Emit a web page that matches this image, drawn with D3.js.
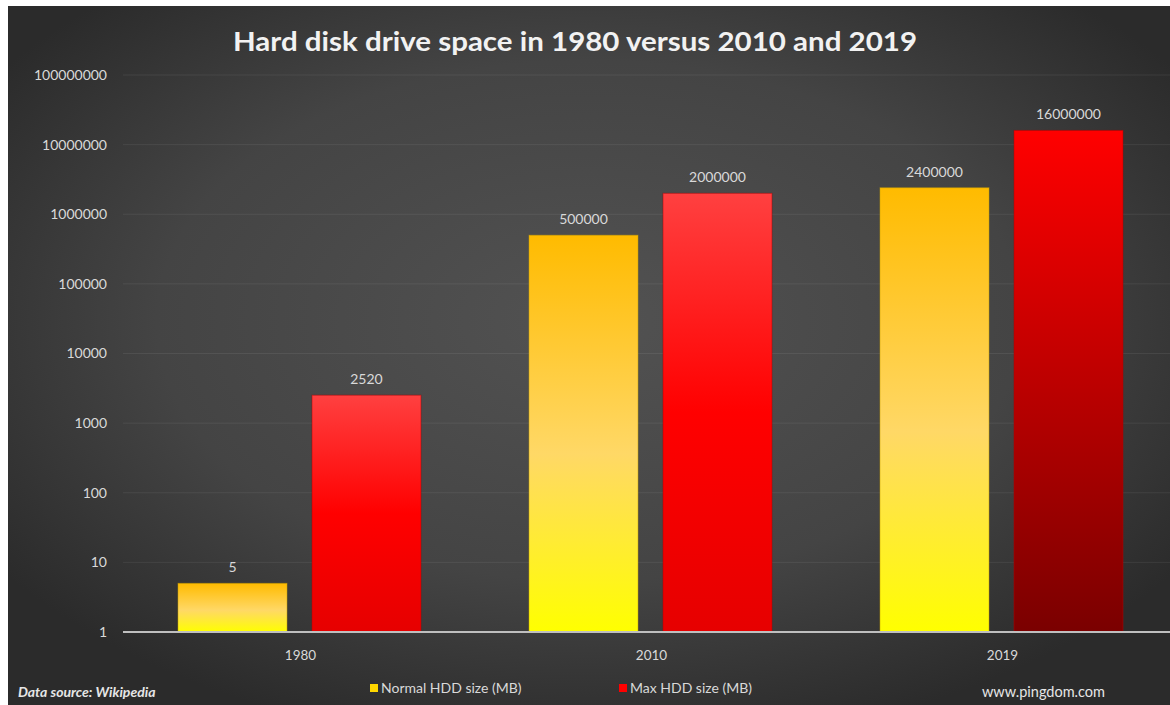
<!DOCTYPE html>
<html>
<head>
<meta charset="utf-8">
<script src="https://cdn.jsdelivr.net/npm/d3@7"></script>
<style>
  html, body { margin: 0; padding: 0; background: #ffffff; }
  svg { display: block; }
  text { font-family: Lato, "Open Sans", "DejaVu Sans", sans-serif; }
</style>
</head>
<body>
<svg id="chart" width="1170" height="705"></svg>
<script>
// Chart data
const years = ["1980", "2010", "2019"];
const seriesNames = ["Normal HDD size (MB)", "Max HDD size (MB)"];
const normalSize = [5, 500000, 2400000];
const maxSize = [2520, 2000000, 16000000];
const yTicks = [1, 10, 100, 1000, 10000, 100000, 1000000, 10000000, 100000000];
const titleText = "Hard disk drive space in 1980 versus 2010 and 2019";
const sourceText = "Data source: Wikipedia";
const creditText = "www.pingdom.com";

const W = 1170, H = 705;
const svg = d3.select("#chart");
const defs = svg.append("defs");

// Background: dark slate with a soft lighter centre
const bg = defs.append("radialGradient").attr("id", "bgGrad")
  .attr("cx", "50%").attr("cy", "45%").attr("r", "62%");
bg.append("stop").attr("offset", "0%").attr("stop-color", "#525252");
bg.append("stop").attr("offset", "60%").attr("stop-color", "#444444");
bg.append("stop").attr("offset", "100%").attr("stop-color", "#2b2b2b");

function vGrad(id, stops) {
  const g = defs.append("linearGradient").attr("id", id)
    .attr("x1", 0).attr("y1", 0).attr("x2", 0).attr("y2", 1);
  stops.forEach(([o, c]) => g.append("stop").attr("offset", o).attr("stop-color", c));
}
vGrad("gYellow", [[0, "#ffbb00"], [0.55, "#ffd866"], [1, "#ffff00"]]);
vGrad("gRed", [[0, "#ff4040"], [0.5, "#ff0000"], [1, "#e60000"]]);
vGrad("gRedDark", [[0, "#ff0000"], [1, "#7a0000"]]);

svg.append("rect").attr("x", 8).attr("y", 6).attr("width", W - 8).attr("height", H - 6)
  .attr("fill", "url(#bgGrad)");

// Scales
const x0 = d3.scaleBand().domain(years).range([124, 1177]).paddingInner(0).paddingOuter(0);
const x1 = d3.scaleBand().domain(seriesNames).range([0, x0.bandwidth()])
  .paddingInner(25 / 134).paddingOuter(0.403);
const y = d3.scaleLog().domain([1, 1e8]).range([632, 75]);

// Gridlines
svg.append("g").selectAll("line").data(yTicks.slice(1)).join("line")
  .attr("x1", 123).attr("x2", W)
  .attr("y1", d => y(d)).attr("y2", d => y(d))
  .attr("stroke", "#ffffff").attr("stroke-opacity", 0.07).attr("stroke-width", 1);

// Y axis labels
const yAxis = d3.axisLeft(y).tickValues(yTicks).tickFormat(d3.format("d")).tickSize(0).tickPadding(0);
const gy = svg.append("g").attr("transform", "translate(107,0)").call(yAxis);
gy.select(".domain").remove();
gy.selectAll("text").attr("fill", "#d9d9d9").style("font-size", "14px")
  .style("font-family", "Lato, 'Open Sans', sans-serif");

// Bars
const rows = years.map((yr, i) => ({
  year: yr,
  values: [
    { name: seriesNames[0], v: normalSize[i], fill: "url(#gYellow)", stroke: "#c9a000" },
    { name: seriesNames[1], v: maxSize[i], fill: yr === "2019" ? "url(#gRedDark)" : "url(#gRed)", stroke: "#b00000" }
  ]
}));

const groups = svg.append("g").selectAll("g").data(rows).join("g")
  .attr("transform", d => `translate(${x0(d.year)},0)`);

groups.selectAll("rect").data(d => d.values).join("rect")
  .attr("x", d => x1(d.name))
  .attr("width", x1.bandwidth())
  .attr("y", d => y(d.v))
  .attr("height", d => y(1) - y(d.v))
  .attr("fill", d => d.fill)
  .attr("stroke", d => d.stroke).attr("stroke-opacity", 0.5).attr("stroke-width", 1);

groups.selectAll("text.val").data(d => d.values).join("text")
  .attr("class", "val")
  .attr("x", d => x1(d.name) + x1.bandwidth() / 2)
  .attr("y", d => y(d.v) - 11)
  .attr("text-anchor", "middle")
  .attr("fill", "#d9d9d9").style("font-size", "14px")
  .text(d => d.v);

// Baseline
svg.append("line").attr("x1", 123).attr("x2", W).attr("y1", y(1)).attr("y2", y(1))
  .attr("stroke", "#bfbfbf").attr("stroke-width", 2);

// Category labels
svg.append("g").selectAll("text").data(years).join("text")
  .attr("x", d => x0(d) + x0.bandwidth() / 2 + 1)
  .attr("y", 660)
  .attr("text-anchor", "middle")
  .attr("fill", "#d9d9d9").style("font-size", "13.5px")
  .text(d => d);

// Title
svg.append("text").attr("x", 575).attr("y", 51).attr("text-anchor", "middle")
  .attr("fill", "#f2f2f2").style("font-size", "26px").style("font-weight", "bold")
  .attr("textLength", 684).attr("lengthAdjust", "spacingAndGlyphs")
  .text(titleText);

// Legend
const legendItems = [
  { name: seriesNames[0], color: "#ffd700", x: 370 },
  { name: seriesNames[1], color: "#ff0000", x: 619 }
];
const lg = svg.append("g").selectAll("g").data(legendItems).join("g")
  .attr("transform", d => `translate(${d.x},0)`);
lg.append("rect").attr("x", 0).attr("y", 684).attr("width", 8).attr("height", 8)
  .attr("fill", d => d.color);
lg.append("text").attr("x", 11).attr("y", 693)
  .attr("fill", "#d9d9d9").style("font-size", "14px").text(d => d.name);

// Footer notes
svg.append("text").attr("x", 18).attr("y", 697)
  .attr("fill", "#e6e6e6").style("font-size", "14px").style("font-style", "italic").style("font-weight", "bold")
  .text(sourceText);
svg.append("text").attr("x", 1105).attr("y", 697).attr("text-anchor", "end")
  .attr("fill", "#e6e6e6").style("font-size", "14.5px")
  .text(creditText);
</script>
</body>
</html>
